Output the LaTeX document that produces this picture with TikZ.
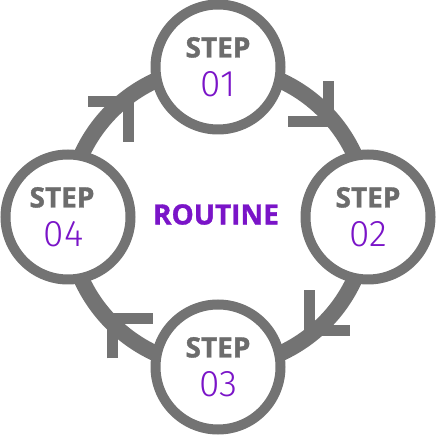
\documentclass[tikz,border=0pt]{standalone}
\usepackage{fontspec}
\setmainfont{Open Sans}
\newfontfamily\heavyfont{Open Sans Bold}[FakeBold=1.2]
\newfontfamily\thinfont{Fira Sans Light}
\usetikzlibrary{positioning, calc, backgrounds}
\definecolor{ringgray}{RGB}{115,115,115}
\definecolor{textgray}{RGB}{108,108,108}
\definecolor{steppurple}{RGB}{122,20,200}
\newcommand{\stepnum}[1]{{\thinfont\fontsize{37}{39}\selectfont\color{steppurple}#1}}

\begin{document}
\begin{tikzpicture}[x=1pt, y=1pt, node distance=150pt]

\tikzstyle{stepcirc} = [circle, minimum size=125pt, draw=ringgray, line width=10pt, fill=white, align=center, text=textgray, font=\fontsize{28}{39}\selectfont\heavyfont]
\tikzstyle{ring} = [draw=ringgray, line width=16pt]
\tikzstyle{chevron} = [draw=ringgray, line width=11pt, line join=miter]

\useasboundingbox (0,0) rectangle (436,436);
\coordinate (c) at (218,219);

\node (routine) [text=steppurple, font=\fontsize{28}{35}\selectfont\heavyfont] at ([shift={(-2pt,2.5pt)}]c) {ROUTINE};
\node (s1) [stepcirc, above of=c] {STEP\\\stepnum{01}};
\node (s2) [stepcirc, right of=c] {STEP\\\stepnum{02}};
\node (s3) [stepcirc, below of=c] {STEP\\\stepnum{03}};
\node (s4) [stepcirc, left of=c] {STEP\hspace*{12pt}\\\stepnum{04}\hspace*{9pt}};

\begin{scope}[on background layer]
\draw [ring] (s4.center) arc[start angle=180, end angle=90, radius=150pt];
\draw [ring] (s1.center) arc[start angle=90, end angle=0, radius=150pt];
\draw [ring] (s2.center) arc[start angle=0, end angle=-90, radius=150pt];
\draw [ring] (s3.center) arc[start angle=-90, end angle=-180, radius=150pt];
% arrow heads on the ring
\foreach \a/\d in {128/45, 41/-45, -51/-135, -136/135}
  \draw [chevron] ($(c)+(\a:146pt)$) +(\d+135:40pt) -- +(0,0) -- +(\d-135:40pt);
\end{scope}
\end{tikzpicture}
\end{document}
